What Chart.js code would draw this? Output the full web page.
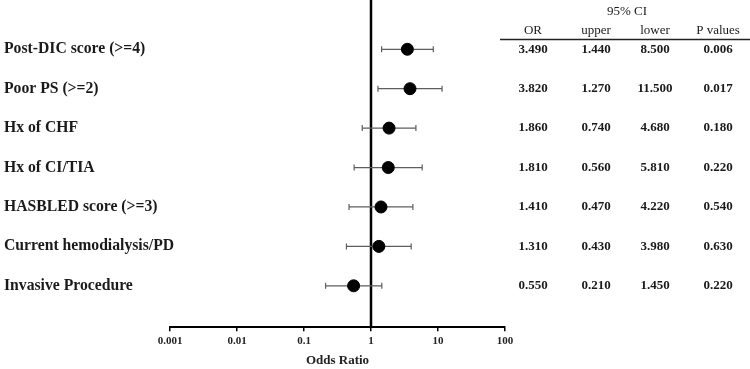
<!DOCTYPE html>
<html>
<head>
<meta charset="utf-8">
<script src="https://cdn.jsdelivr.net/npm/chart.js@4/dist/chart.umd.min.js"></script>
<style>
  body { margin: 0; background: #fff; }
</style>
</head>
<body>
<canvas id="forest" width="750" height="369"></canvas>
<script>
const labels = [
  'Post-DIC score (>=4)',
  'Poor PS (>=2)',
  'Hx of CHF',
  'Hx of CI/TIA',
  'HASBLED score (>=3)',
  'Current hemodialysis/PD',
  'Invasive Procedure'
];
const oddsRatio = [3.49, 3.82, 1.86, 1.81, 1.41, 1.31, 0.55];
const ciLow = [1.44, 1.27, 0.74, 0.56, 0.47, 0.43, 0.21];
const ciHigh = [8.5, 11.5, 4.68, 5.81, 4.22, 3.98, 1.45];
const pValues = [0.006, 0.017, 0.18, 0.22, 0.54, 0.63, 0.22];
const xTicks = [0.001, 0.01, 0.1, 1, 10, 100];
const tableHeaders = ['OR', 'upper', 'lower', 'P values'];
const tableTitle = '95% CI';

const serif = "'Liberation Serif', 'Times New Roman', serif";
const colX = [533, 596, 655, 718];

// whiskers, the line at OR = 1, row labels and the table on the right
const forestPlugin = {
  id: 'forest',
  beforeDatasetsDraw(chart) {
    const ctx = chart.ctx;
    const x = chart.scales.x, y = chart.scales.y;
    const area = chart.chartArea;
    ctx.save();
    ctx.strokeStyle = '#000';
    ctx.lineWidth = 2.5;
    ctx.beginPath();
    ctx.moveTo(x.getPixelForValue(1), 0);
    ctx.lineTo(x.getPixelForValue(1), area.bottom);
    ctx.stroke();

    ctx.strokeStyle = '#5e5e5e';
    ctx.lineWidth = 1.2;
    labels.forEach((l, i) => {
      const py = y.getPixelForValue(i);
      const x1 = x.getPixelForValue(ciLow[i]);
      const x2 = x.getPixelForValue(ciHigh[i]);
      ctx.beginPath();
      ctx.moveTo(x1, py); ctx.lineTo(x2, py);
      ctx.moveTo(x1, py - 3); ctx.lineTo(x1, py + 3);
      ctx.moveTo(x2, py - 3); ctx.lineTo(x2, py + 3);
      ctx.stroke();
    });
    ctx.restore();
  },
  afterDraw(chart) {
    const ctx = chart.ctx;
    const y = chart.scales.y;
    ctx.save();
    ctx.fillStyle = '#1a1a1a';
    ctx.textBaseline = 'middle';

    ctx.font = 'bold 15.7px ' + serif;
    ctx.textAlign = 'left';
    labels.forEach((l, i) => ctx.fillText(l, 4, y.getPixelForValue(i)));

    ctx.textAlign = 'center';
    ctx.font = '13px ' + serif;
    ctx.fillText(tableTitle, 627, 12);
    tableHeaders.forEach((h, j) => ctx.fillText(h, colX[j], 31));

    ctx.strokeStyle = '#222';
    ctx.lineWidth = 1.5;
    ctx.beginPath();
    ctx.moveTo(500, 39.5);
    ctx.lineTo(750, 39.5);
    ctx.stroke();

    ctx.font = 'bold 13px ' + serif;
    labels.forEach((l, i) => {
      const py = y.getPixelForValue(i);
      const row = [oddsRatio[i], ciLow[i], ciHigh[i], pValues[i]];
      row.forEach((v, j) => ctx.fillText(v.toFixed(3), colX[j], py));
    });
    ctx.restore();
  }
};

const forestData = {
  datasets: [{
    data: labels.map((l, i) => ({ x: oddsRatio[i], y: i })),
    backgroundColor: '#000',
    borderColor: '#000',
    pointRadius: 6,
    showLine: false
  }]
};

new Chart(document.getElementById('forest'), {
  type: 'scatter',
  data: forestData,
  options: {
    responsive: false,
    animation: false,
    layout: { autoPadding: false, padding: { left: 170, right: 245, top: 0, bottom: 1 } },
    plugins: { legend: { display: false }, tooltip: { enabled: false } },
    scales: {
      x: {
        type: 'logarithmic',
        min: 0.001,
        max: 100,
        afterBuildTicks: (s) => { s.ticks = xTicks.map(v => ({ value: v })); },
        ticks: {
          callback: (v) => String(v),
          color: '#222',
          padding: 3,
          maxRotation: 0,
          font: { family: serif, size: 11, weight: 'bold' }
        },
        grid: { display: true, drawOnChartArea: false, drawTicks: true, tickLength: 4, color: '#000', lineWidth: 1.5 },
        border: { display: true, color: '#000', width: 2 },
        title: {
          display: true,
          text: 'Odds Ratio',
          color: '#222',
          padding: { top: 2, bottom: 0 },
          font: { family: serif, size: 13, weight: 'bold' }
        }
      },
      y: {
        type: 'linear',
        reverse: true,
        min: -1.25,
        max: 7.05,
        display: false
      }
    }
  },
  plugins: [forestPlugin]
});
</script>
</body>
</html>
